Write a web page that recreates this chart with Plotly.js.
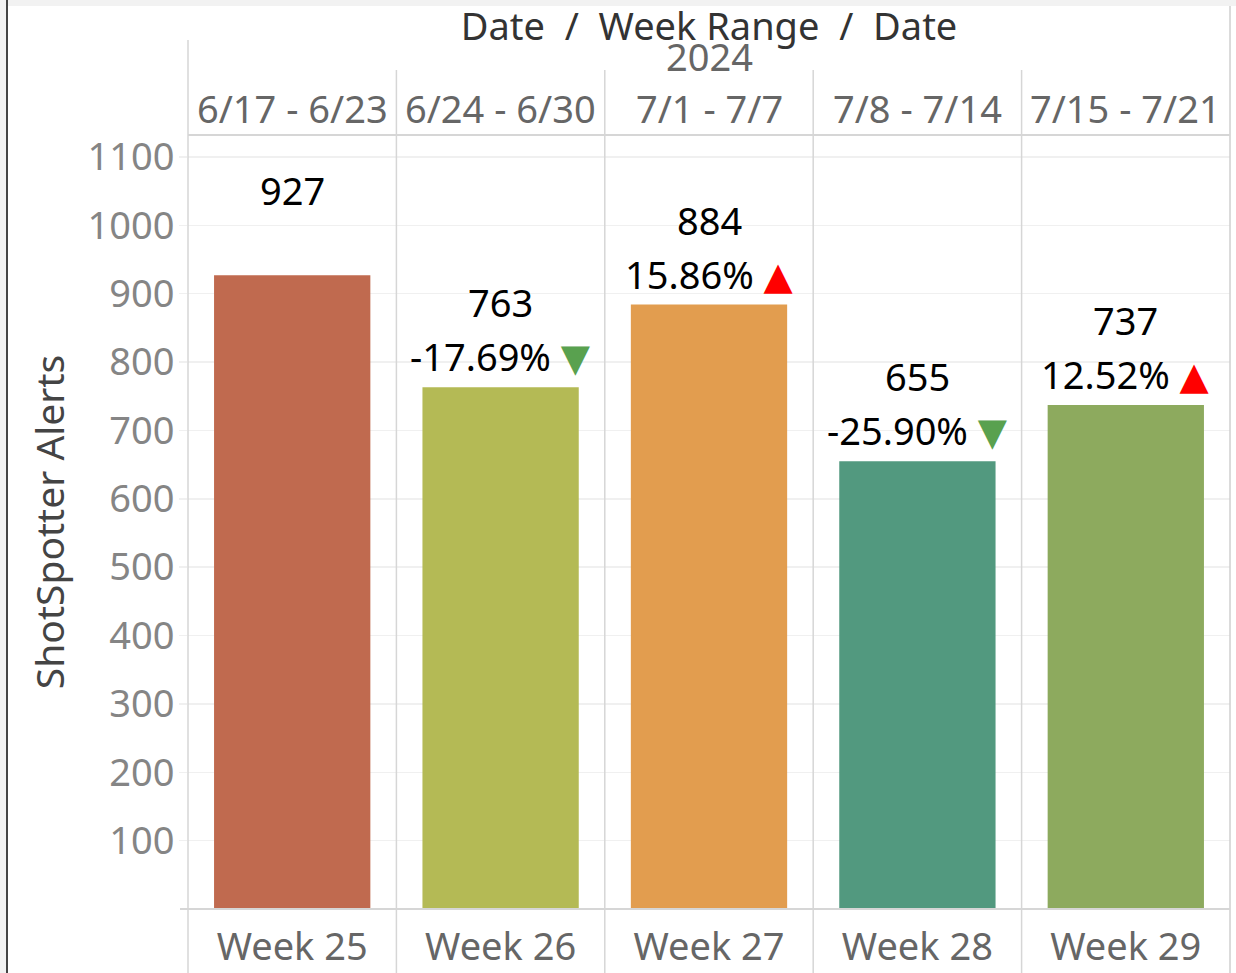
<!DOCTYPE html>
<html>
<head>
<meta charset="utf-8">
<script src="https://cdn.plot.ly/plotly-3.0.1.min.js"></script>
<style>html,body{margin:0;padding:0;background:#fff;}#chart{width:1236px;height:973px;}</style>
</head>
<body>
<div id="chart"></div>
<script>
// ---- data ----
var weeks = ["Week 25", "Week 26", "Week 27", "Week 28", "Week 29"];
var weekRanges = ["6/17 - 6/23", "6/24 - 6/30", "7/1 - 7/7", "7/8 - 7/14", "7/15 - 7/21"];
var alerts = [927, 763, 884, 655, 737];
var pctChange = ["", "-17.69%", "15.86%", "-25.90%", "12.52%"];
var direction = ["", "down", "up", "down", "up"];
var barColors = ["#C06A4F", "#B4BA55", "#E29D4F", "#52997F", "#8DAA5E"];
var yTicks = [100, 200, 300, 400, 500, 600, 700, 800, 900, 1000, 1100];
var yearLabel = "2024";

var FONT = "Noto Sans, Open Sans, DejaVu Sans, sans-serif";
var W = 1236, H = 973;
var mL = 188, mR = 6, mT = 135, mB = 64;
var plotW = W - mL - mR;
var plotH = H - mT - mB;
function py(px) { return (H - mB - px) / plotH; } // pixel y -> paper y
function pxp(px) { return (px - mL) / plotW; }    // pixel x -> paper x

var trace = {
  type: "bar",
  x: weeks,
  y: alerts,
  marker: { color: barColors, line: { width: 0 } },
  hoverinfo: "skip",
  width: 0.75
};

var annotations = [];
for (var i = 0; i < weeks.length; i++) {
  annotations.push({
    x: weeks[i], y: alerts[i], xref: "x", yref: "y",
    text: String(alerts[i]), showarrow: false,
    xanchor: "center", yanchor: "middle", yshift: 85,
    font: { family: FONT, size: 38, color: "#000" }
  });
  if (pctChange[i]) {
    var tri = direction[i] === "up"
      ? "<span style='color:#FF0000'>\u25B2</span>"
      : "<span style='color:#59A14F'>\u25BC</span>";
    annotations.push({
      x: weeks[i], y: alerts[i], xref: "x", yref: "y",
      text: pctChange[i] + " " + tri, showarrow: false,
      xanchor: "center", yanchor: "middle", yshift: 31,
      font: { family: FONT, size: 38, color: "#000" }
    });
  }
  annotations.push({
    x: weeks[i], y: py(108), xref: "x", yref: "paper",
    text: weekRanges[i], showarrow: false,
    xanchor: "center", yanchor: "middle",
    font: { family: FONT, size: 38, color: "#666" }
  });
}
annotations.push({
  x: 0.5, y: py(56), xref: "paper", yref: "paper",
  text: yearLabel, showarrow: false, xanchor: "center", yanchor: "middle",
  font: { family: FONT, size: 38, color: "#666" }
});

var lineCol = "#d6d6d6";
var shapes = [];
// top grey band and left grey strip
shapes.push({ type: "rect", xref: "paper", yref: "paper", x0: pxp(0), x1: pxp(W), y0: py(6), y1: py(0), fillcolor: "#f2f2f2", line: { width: 0 }, layer: "below" });
shapes.push({ type: "rect", xref: "paper", yref: "paper", x0: pxp(0), x1: pxp(7), y0: py(H), y1: py(0), fillcolor: "#f2f2f2", line: { width: 0 }, layer: "below" });
// left dark border
shapes.push({ type: "line", xref: "paper", yref: "paper", x0: pxp(7), x1: pxp(7), y0: py(H), y1: py(0), line: { color: "#444", width: 2 } });
// right border
shapes.push({ type: "line", xref: "paper", yref: "paper", x0: 1, x1: 1, y0: py(H), y1: py(6), line: { color: "#cfcfcf", width: 1.5 } });
// left plot edge
shapes.push({ type: "line", xref: "paper", yref: "paper", x0: 0, x1: 0, y0: py(H), y1: py(40), line: { color: lineCol, width: 1.5 } });
// column dividers
for (var k = 1; k < weeks.length; k++) {
  var xp = k / weeks.length;
  shapes.push({ type: "line", xref: "paper", yref: "paper", x0: xp, x1: xp, y0: py(H), y1: py(70), line: { color: lineCol, width: 1.5 } });
}
// header bottom line
shapes.push({ type: "line", xref: "paper", yref: "paper", x0: 0, x1: 1, y0: 1, y1: 1, line: { color: lineCol, width: 2 } });
// baseline
shapes.push({ type: "line", xref: "paper", yref: "paper", x0: pxp(180), x1: 1, y0: 0, y1: 0, line: { color: lineCol, width: 2 } });

var layout = {
  width: W, height: H,
  margin: { l: mL, r: mR, t: mT, b: mB, pad: 0 },
  paper_bgcolor: "#fff", plot_bgcolor: "#fff",
  showlegend: false,
  bargap: 0.25,
  title: {
    text: "Date\u00A0 /\u00A0 Week Range\u00A0 /\u00A0 Date",
    x: 0.5, xref: "paper", xanchor: "center",
    y: 1 - 27 / H, yref: "container", yanchor: "middle",
    font: { family: FONT, size: 38, color: "#333" }
  },
  xaxis: {
    type: "category",
    showgrid: false, zeroline: false, showline: false,
    ticks: "", ticklabelstandoff: 12,
    tickfont: { family: FONT, size: 38, color: "#666" },
    fixedrange: true
  },
  yaxis: {
    range: [0, 1132],
    tickvals: yTicks,
    showgrid: true, gridcolor: "#f0f0f0", gridwidth: 1.5,
    zeroline: false, showline: false,
    ticks: "outside", ticklen: 8, tickcolor: "#f0f0f0", tickwidth: 1.5,
    ticklabelstandoff: -3,
    tickfont: { family: FONT, size: 38, color: "#858585" },
    title: { text: "ShotSpotter Alerts", standoff: 10, font: { family: FONT, size: 39, color: "#444" } },
    fixedrange: true
  },
  annotations: annotations,
  shapes: shapes
};

Plotly.newPlot("chart", [trace], layout, { displayModeBar: false, staticPlot: true });
</script>
</body>
</html>
